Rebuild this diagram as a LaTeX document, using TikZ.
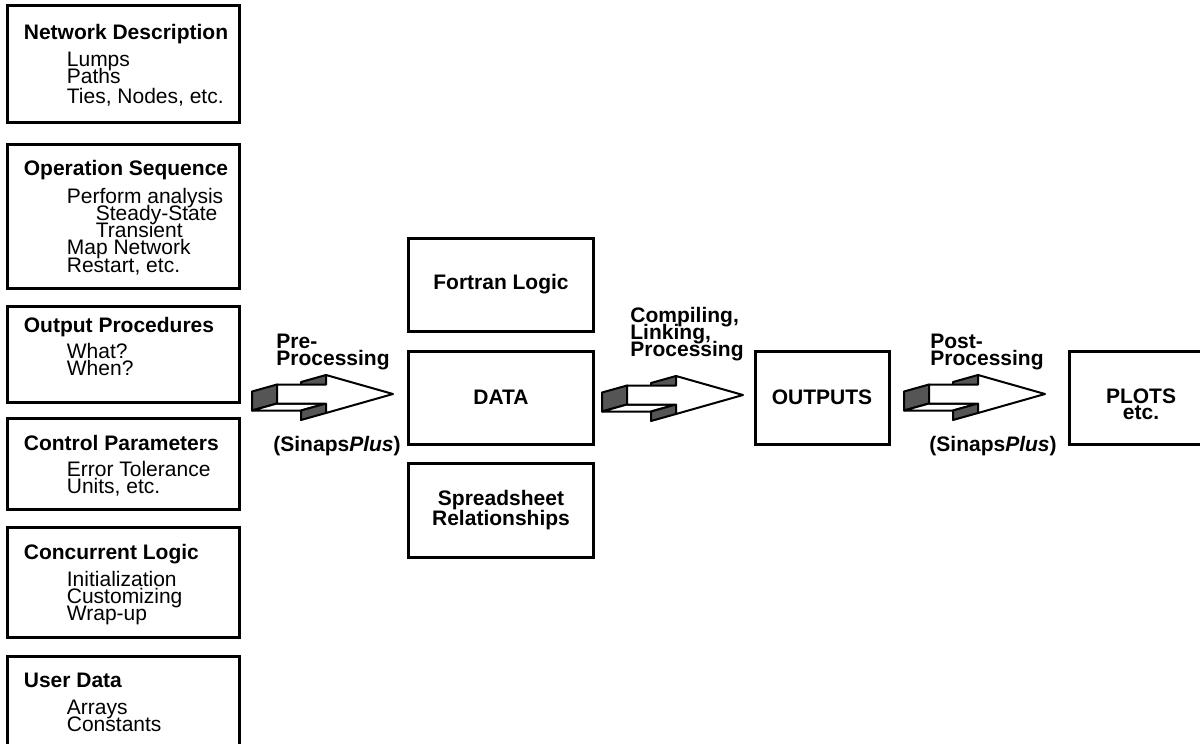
\documentclass[tikz,border=0pt]{standalone}
\usepackage{fontspec}
\setmainfont{Liberation Sans}
\usepackage{xcolor}
\usepackage{tikz}
\usetikzlibrary{positioning, calc}
\definecolor{arrside}{RGB}{85,85,85}
\newcommand\tightlines{\lineskiplimit-10pt\relax}

% hollow 3-D block arrow, origin at the left end of the shaft
\tikzset{
  blockarrow/.pic={
    \filldraw[fill=arrside, line width=1pt, line join=round] (0,-9.5) -- (-25,-2.5) -- (-25,16.5) -- (0,9.5) -- cycle;
    \filldraw[fill=white, line width=1pt, line join=round] (0,9.5) -- (-25,16.5) -- (24,16.5) -- (49,9.5) -- cycle;
    \filldraw[fill=arrside, line width=1pt, line join=round] (49,9.5) -- (24,16.5) -- (24,26) -- (49,19) -- cycle;
    \filldraw[fill=arrside, line width=1pt, line join=round] (49,-19) -- (24,-12) -- (24,-2.5) -- (49,-9.5) -- cycle;
    \filldraw[fill=white, line width=1pt, line join=round]
      (0,-9.5) -- (49,-9.5) -- (49,-19) -- (116,0) -- (49,19) -- (49,9.5) -- (0,9.5) -- cycle;
  }
}

\begin{document}
\begin{tikzpicture}[
  x=0.5pt, y=-0.5pt,
  every node/.style={font=\fontsize{10.5}{8.5}\selectfont\tightlines},
  lbox/.style={draw, line width=1.5pt, minimum width=116pt, inner sep=0pt},
  ltext/.style={anchor=north west, align=left, inner sep=0pt},
  mbox/.style={
    draw, line width=1.5pt, inner sep=0pt,
    minimum width=92.5pt, minimum height=46.5pt,
    align=center, font=\fontsize{10.5}{10}\selectfont\bfseries
  },
  tag/.style={align=left, inner sep=0pt, font=\fontsize{10.5}{8.4}\selectfont\bfseries\tightlines},
]
\useasboundingbox (0,0) rectangle (1200,744);

% Input descriptions (left column)
\node[lbox, minimum height=58.5pt] (netdesc) at (123,63.5) {};
\node[ltext] (netdesctxt) at ([shift={(18,20)}]netdesc.north west) {%
  \textbf{Network Description}\\[5pt]
  \hspace*{21.5pt}Lumps\\
  \hspace*{21.5pt}Paths\\[1.5pt]
  \hspace*{21.5pt}Ties, Nodes, etc.};

\node[lbox, minimum height=72pt] (opseq) at (123,216) {};
\node[ltext, font=\fontsize{10.5}{8.65}\selectfont\tightlines] (opseqtxt) at ([shift={(18,17)}]opseq.north west) {%
  \textbf{Operation Sequence}\\[5.3pt]
  \hspace*{21.5pt}Perform analysis\\
  \hspace*{36pt}Steady-State\\
  \hspace*{36pt}Transient\\
  \hspace*{21.5pt}Map Network\\
  \hspace*{21.5pt}Restart, etc.};

\node[lbox, minimum height=48pt] (outproc) at (123,354) {};
\node[ltext] (outproctxt) at ([shift={(18,12)}]outproc.north west) {%
  \textbf{Output Procedures}\\[4.5pt]
  \hspace*{21.5pt}What?\\
  \hspace*{21.5pt}When?};

\node[lbox, minimum height=45.5pt] (ctrlpar) at (123,463.5) {};
\node[ltext] (ctrlpartxt) at ([shift={(18,18)}]ctrlpar.north west) {%
  \textbf{Control Parameters}\\[4.5pt]
  \hspace*{21.5pt}Error Tolerance\\
  \hspace*{21.5pt}Units, etc.};

\node[lbox, minimum height=55pt] (conclogic) at (123,582) {};
\node[ltext] (conclogictxt) at ([shift={(18,18)}]conclogic.north west) {%
  \textbf{Concurrent Logic}\\[5pt]
  \hspace*{21.5pt}Initialization\\
  \hspace*{21.5pt}Customizing\\
  \hspace*{21.5pt}Wrap-up};

\node[lbox, minimum height=57pt] (userdata) at (123,713) {};
\node[ltext] (userdatatxt) at ([shift={(18,18)}]userdata.north west) {%
  \textbf{User Data}\\[5pt]
  \hspace*{21.5pt}Arrays\\
  \hspace*{21.5pt}Constants};

% Model (middle column)
\node[mbox] (fortran) at (501,284.5) {Fortran Logic};
\node[mbox] (data) at (501,397.5) {DATA};
\node[mbox, minimum height=47pt] (sheet) at (501,510) {Spreadsheet\\Relationships};

% Results
\node[mbox, minimum width=67pt] (outputs) at (822,397.5) {OUTPUTS};
\node[mbox, minimum width=72pt] (plots) at (1141,397.5) {};
\node[font=\fontsize{10.5}{8}\selectfont\bfseries\tightlines, align=center, inner sep=0pt]
  (plotstxt) at ([yshift=-3.5pt]plots.center) {PLOTS\\etc.};

% Block arrows
\coordinate (prearr) at (277,394);
\coordinate (comparr) at (627,395);
\coordinate (postarr) at (929,394);
\pic at (prearr) {blockarrow};
\pic at (comparr) {blockarrow};
\pic at (postarr) {blockarrow};

% Arrow captions
\node[tag, anchor=north west] (pretag) at (276,334) {Pre-\\Processing};
\node[tag, anchor=center] (presinaps) at (337,446) {(Sinaps\textit{Plus})};
\node[tag, anchor=north west] (comptag) at (630,307) {Compiling,\\Linking,\\Processing};
\node[tag, anchor=north west] (posttag) at (930,334) {Post-\\Processing};
\node[tag, anchor=center] (postsinaps) at (993,446) {(Sinaps\textit{Plus})};

\end{tikzpicture}
\end{document}
